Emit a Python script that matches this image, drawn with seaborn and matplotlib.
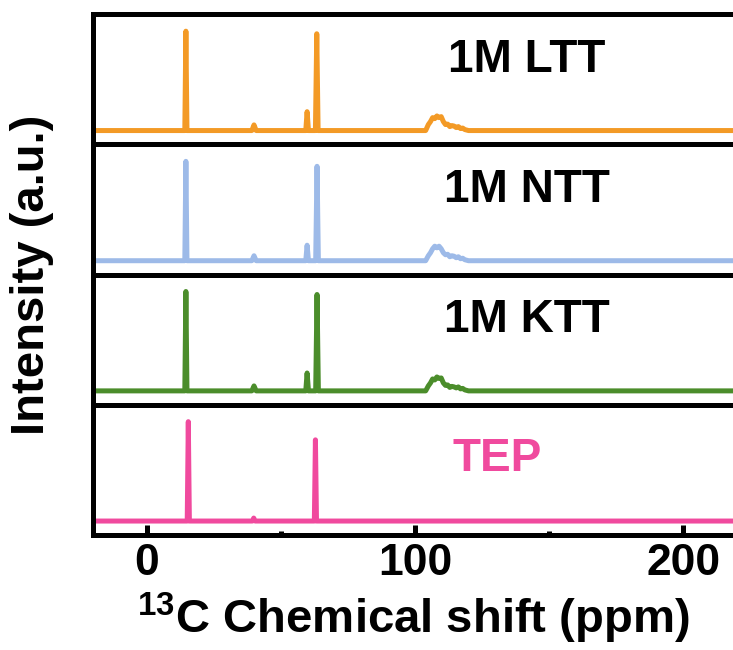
import matplotlib
matplotlib.use("Agg")
from matplotlib import pyplot as plt
import seaborn as sns

# peak traces (ppm, normalised intensity)
ltt_ppm = [-25, 14.2, 14.6, 15.0, 39.2, 40.0, 40.8, 59.3, 59.8, 60.3, 62.9, 63.4, 63.9,
           104.0, 105.0, 105.8, 106.6, 107.4, 108.2, 109.0, 109.8, 110.6, 111.4, 112.2,
           113.0, 113.8, 114.6, 115.4, 116.2, 117.0, 117.8, 118.6, 120.0, 230]
ltt_int = [0, 0, 1.0, 0, 0, 0.057, 0, 0, 0.19, 0, 0, 0.974, 0,
           0, 0.06, 0.09, 0.13, 0.12, 0.147, 0.13, 0.14, 0.09, 0.06, 0.065, 0.04,
           0.05, 0.045, 0.03, 0.04, 0.02, 0.025, 0.01, 0, 0]

ntt_ppm = [-25, 14.2, 14.6, 15.0, 39.2, 40.0, 40.8, 59.3, 59.8, 60.3, 63.0, 63.5, 64.0,
           104.0, 105.0, 105.8, 106.6, 107.4, 108.2, 109.0, 109.8, 110.6, 111.4, 112.2,
           113.0, 113.8, 114.6, 115.4, 116.2, 117.0, 117.8, 118.6, 120.0, 230]
ntt_int = [0, 0, 1.0, 0, 0, 0.05, 0, 0, 0.156, 0, 0, 0.95, 0,
           0, 0.05, 0.08, 0.12, 0.146, 0.13, 0.146, 0.12, 0.08, 0.06, 0.065, 0.04,
           0.05, 0.045, 0.03, 0.04, 0.02, 0.025, 0.01, 0, 0]

ktt_ppm = [-25, 14.2, 14.6, 15.0, 39.2, 40.0, 40.8, 59.3, 59.8, 60.3, 63.0, 63.5, 64.0,
           104.0, 105.0, 105.8, 106.6, 107.4, 108.2, 109.0, 109.8, 110.6, 111.4, 112.2,
           113.0, 113.8, 114.6, 115.4, 116.2, 117.0, 117.8, 118.6, 120.0, 230]
ktt_int = [0, 0, 1.0, 0, 0, 0.05, 0, 0, 0.18, 0, 0, 0.97, 0,
           0, 0.05, 0.08, 0.12, 0.11, 0.14, 0.125, 0.13, 0.08, 0.055, 0.06, 0.035,
           0.045, 0.04, 0.03, 0.04, 0.02, 0.025, 0.01, 0, 0]

tep_ppm = [-25, 15.1, 15.5, 15.9, 39.4, 39.9, 40.4, 62.5, 62.9, 63.3, 230]
tep_int = [0, 0, 1.0, 0, 0, 0.03, 0, 0, 0.817, 0, 0]

names = ["1M LTT", "1M NTT", "1M KTT", "TEP"]
colors = ["#F39A26", "#9DBAE8", "#4B8D2B", "#F04A9E"]
label_colors = ["black", "black", "black", "#F04A9E"]

sns.set_style("ticks")
plt.rcParams["font.family"] = ["Liberation Sans", "DejaVu Sans"]
plt.rcParams["font.weight"] = "bold"
plt.rcParams["text.color"] = "black"
plt.rcParams["axes.labelcolor"] = "black"
plt.rcParams["xtick.color"] = "black"
plt.rcParams["xtick.labelcolor"] = "black"

fig = plt.figure(figsize=(7.33, 6.5), dpi=100)
left, right, top, bottom = 0.127, 1.0, 0.978, 0.177
h = (top - bottom) / 4

spectra = [(ltt_ppm, ltt_int), (ntt_ppm, ntt_int), (ktt_ppm, ktt_int), (tep_ppm, tep_int)]
axes = []
for i, (ppm, inten) in enumerate(spectra):
    ax = fig.add_axes([left, top - (i + 1) * h, right - left, h])
    sns.lineplot(x=ppm, y=inten, ax=ax, color=colors[i], lw=3.6, estimator=None, sort=False,
                 solid_capstyle="round", solid_joinstyle="round")
    ax.set_xlim(-20, 218.6)
    ax.set_ylim(-0.14, 1.17)
    ax.set_yticks([])
    ax.spines["right"].set_visible(False)
    for s in ["left", "top", "bottom"]:
        ax.spines[s].set_linewidth(3.6)
        ax.spines[s].set_color("black")
    if i < 3:
        ax.text(0.678, 0.65, names[i], transform=ax.transAxes, ha="center", va="center",
                fontsize=33, fontweight="bold", color=label_colors[i])
        ax.set_xticks([])
    else:
        ax.text(0.632, 0.58, names[i], transform=ax.transAxes, ha="center", va="center",
                fontsize=33, fontweight="bold", color=label_colors[i])
    axes.append(ax)

ax = axes[-1]
ax.set_xticks([0, 100, 200])
ax.set_xticks([50, 150], minor=True)
ax.tick_params(axis="x", which="major", direction="in", length=7, width=3.6, pad=6,
               labelsize=32, labelcolor="black")
ax.tick_params(axis="x", which="minor", direction="in", length=3, width=3.6)
for lab in ax.get_xticklabels():
    lab.set_fontweight("bold")
ax.set_xlabel(r"$\mathregular{^{13}}$C Chemical shift (ppm)", fontsize=34, fontweight="bold",
              color="black", labelpad=5)

fig.text(0.043, (top + bottom) / 2, "Intensity (a.u.)", rotation=90, ha="center", va="center",
         fontsize=34, fontweight="bold", color="black")

fig.savefig("out.png", dpi=100)
